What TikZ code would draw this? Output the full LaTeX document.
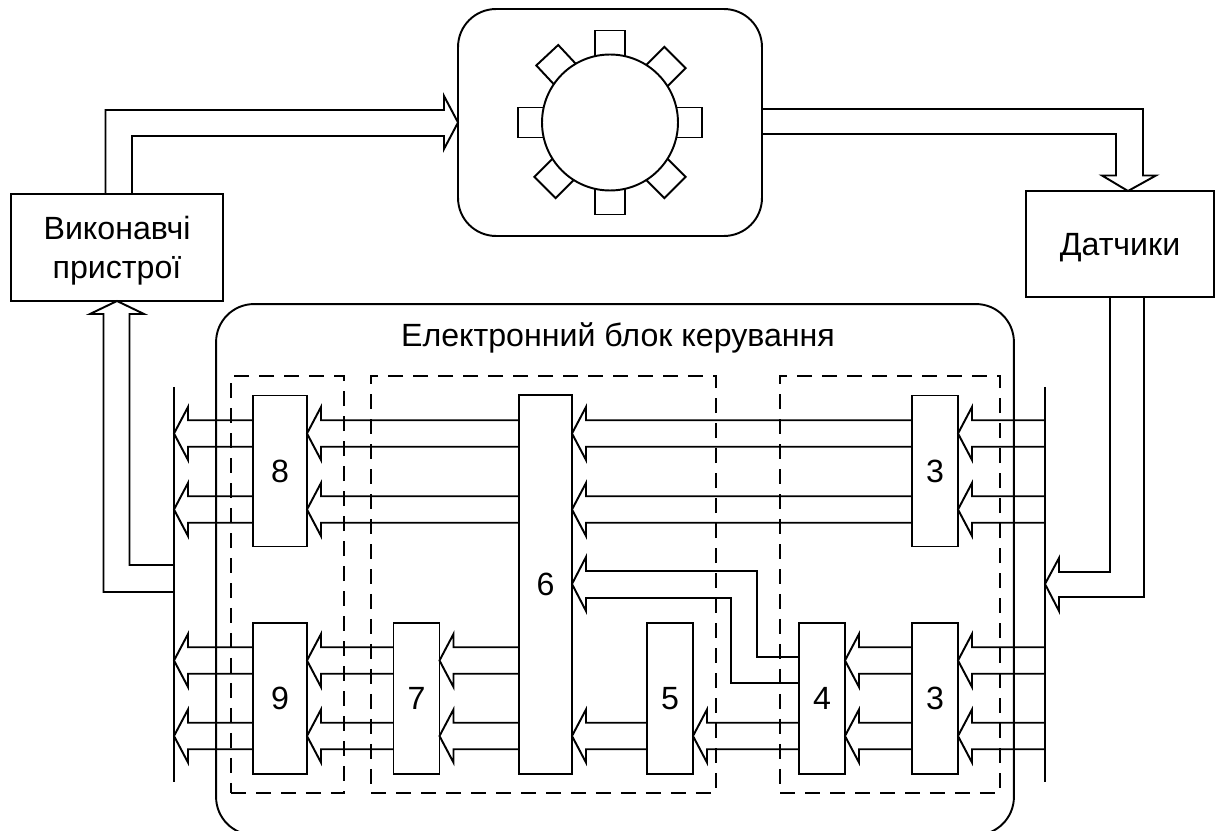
\documentclass[tikz,border=0pt]{standalone}
\usepackage{fontspec}
\setmainfont{Liberation Sans}
\usetikzlibrary{calc}
\tikzset{
  blockbox/.style={draw, fill=white, inner sep=0pt, outer sep=0pt, font=\fontsize{18.3}{22}\selectfont, align=center},
  smallblock/.style={blockbox, minimum width=0.92cm, minimum height=3.02cm},
  wideblock/.style={blockbox, minimum width=1.08cm, minimum height=3.02cm},
  groupbox/.style={draw, dash pattern=on 0.3cm off 0.2cm, inner sep=0pt, outer sep=0pt},
  roundbox/.style={draw, rounded corners=0.76cm, inner sep=0pt, outer sep=0pt},
}
% hollow bus arrow going left: from, tip, y of the tip
\newcommand{\busarrow}[3]{%
  \coordinate (tip) at (#2 |- 0,#3);
  \draw ($(#1 |- tip)+(0,-13.25)$) -- ($(tip)+(14,-13.25)$) -- ++(0,-13.25) -- (tip) -- ++(14,26.5) -- ++(0,-13.25) -- ($(#1 |- tip)+(0,13.25)$);
}
\begin{document}
\begin{tikzpicture}[x=0.02cm, y=-0.02cm, line width=1.1pt]
\useasboundingbox (0,0) rectangle (1215,831);

% Plant with gear
\node[roundbox, minimum width=6.08cm, minimum height=4.54cm] (plant) at (610,122.5) {};
\foreach \ang in {0,45,90,133,180,225,270,315}
  \draw[rotate around={\ang:(610,122.5)}] (660,107.5) rectangle (702,137.5);
\node[draw, circle, fill=white, minimum size=2.72cm, inner sep=0pt, outer sep=0pt] (gear) at (610,122.5) {};

% Outer blocks
\node[blockbox, text depth=0pt, minimum width=4.24cm, minimum height=2.14cm] (act) at (117,247.5) {Виконавчі\\[0.4pt]пристрої};
\node[blockbox, text depth=0pt, minimum width=3.76cm, minimum height=2.12cm] (sens) at (1120,244) {Датчики};

% ECU
\node[roundbox, minimum width=15.96cm, minimum height=10.62cm] (ecu) at (615,569.5) {};
\node[font=\fontsize{18.3}{22}\selectfont] (ecutitle) at (618,338) {Електронний блок керування};

\node[groupbox, minimum width=2.26cm, minimum height=8.34cm] (gleft) at (287.5,584.5) {};
\node[groupbox, minimum width=6.9cm, minimum height=8.34cm] (gmid) at (543.5,584.5) {};
\node[groupbox, minimum width=4.4cm, minimum height=8.34cm] (gright) at (890,584.5) {};

% Inner blocks
\node[wideblock] (b8) at (280,471) {8};
\node[wideblock] (b9) at (280,698.5) {9};
\node[smallblock] (b7) at (416.5,698.5) {7};
\node[blockbox, minimum width=1.06cm, minimum height=7.58cm] (b6) at (545.5,584.5) {6};
\node[smallblock] (b5) at (670,698.5) {5};
\node[smallblock] (b4) at (822,698.5) {4};
\node[smallblock] (b3a) at (935,471) {3};
\node[smallblock] (b3b) at (935,698.5) {3};

% Buses
\coordinate (lbusa) at (174,387);
\coordinate (lbusb) at (174,782);
\coordinate (rbusa) at (1045,387);
\coordinate (rbusb) at (1045,782);
\draw (lbusa) -- (lbusb);
\draw (rbusa) -- (rbusb);

% Upper rows
\foreach \row in {433.5,509.5} {
  \busarrow{rbusa}{b3a.east}{\row}
  \busarrow{b3a.west}{b6.east}{\row}
  \busarrow{b6.west}{b8.east}{\row}
  \busarrow{b8.west}{lbusa}{\row}
}
% Lower rows
\foreach \row in {660.5,736} {
  \busarrow{rbusa}{b3b.east}{\row}
  \busarrow{b3b.west}{b4.east}{\row}
  \busarrow{b6.west}{b7.east}{\row}
  \busarrow{b7.west}{b9.east}{\row}
  \busarrow{b9.west}{lbusa}{\row}
}
\busarrow{b4.west}{b5.east}{736}
\busarrow{b5.west}{b6.east}{736}

% From 4 to 6
\draw (b4.west |- 0,657) -- (757,657) -- (757,571) -- ($(b6.east |- 0,571)+(14,0)$) -- ++(0,-14) -- (b6.east |- 0,584) -- ++(14,27) -- ++(0,-13) -- (731,598) -- (731,683) -- (b4.west |- 0,683);

% Actuators to plant
\draw (act.north -| 105.5,0) -- (105.5,110) -- (444,110) -- (444,96) -- (plant.west) -- (444,149) -- (444,136) -- (132,136) -- (act.north -| 132,0);

% Plant to sensors
\draw (plant.east |- 0,109) -- (1143,109) -- (1143,175.5) -- (1156,175.5) -- (sens.north -| 1128,0) -- (1102,175.5) -- (1116,175.5) -- (1116,134) -- (plant.east |- 0,134);

% Sensors to bus
\draw (sens.south -| 1110,0) -- (1110,572) -- (1059,572) -- (1059,558) -- (rbusa |- 0,584) -- (1059,611) -- (1059,597) -- (1144,597) -- (sens.south -| 1144,0);

% Bus to actuators
\draw (lbusa |- 0,565) -- (129.5,565) -- (129.5,314) -- (144,314) -- (act.south -| 117,0) -- (90,314) -- (103.5,314) -- (103.5,592) -- (lbusa |- 0,592);
\end{tikzpicture}
\end{document}
